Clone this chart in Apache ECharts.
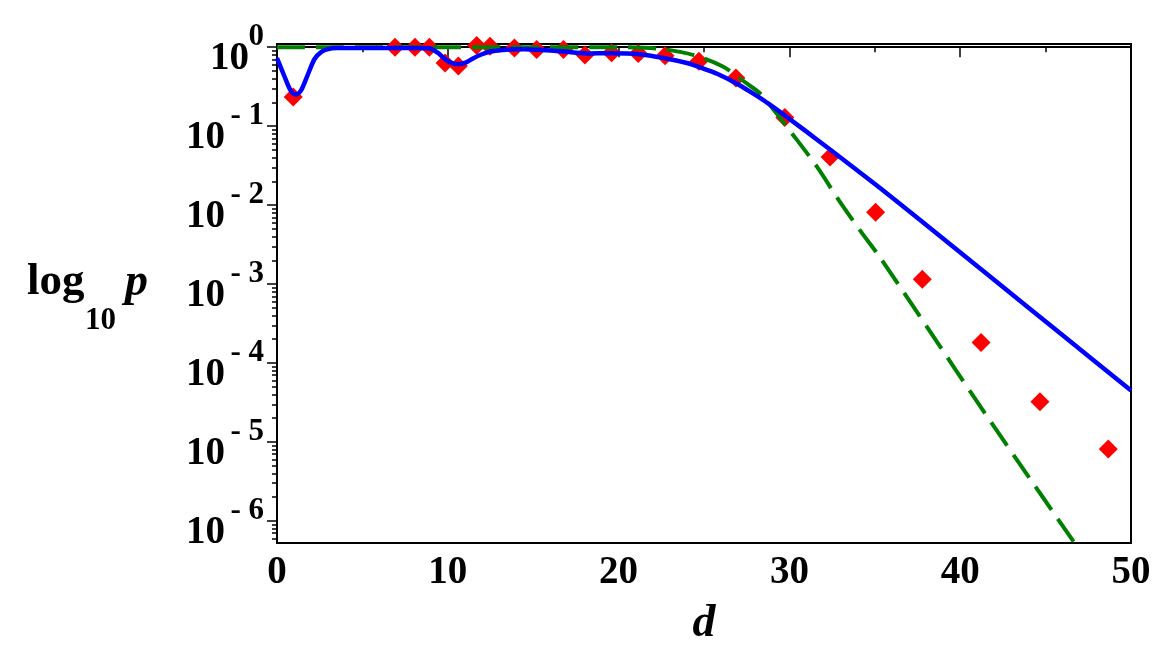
<!DOCTYPE html>
<html>
<head>
<meta charset="utf-8">
<script src="https://cdn.jsdelivr.net/npm/echarts@6/dist/echarts.min.js"></script>
<style>
  html, body { margin: 0; padding: 0; background: #fff; }
  #chart { width: 1157px; height: 665px; }
</style>
</head>
<body>
<div id="chart"></div>
<script>
// values: d on x, log10 p on y
const diamondD = [0.95, 6.91, 8.08, 8.92, 9.84, 10.62, 11.69, 12.47, 13.9, 15.2, 16.77, 18.03, 19.59, 21.15, 22.72, 24.7, 26.87, 29.73, 32.38, 35.05, 37.78, 41.22, 44.67, 48.67]
const diamondLogP = [-0.63, 0.0, 0.0, 0.0, -0.2, -0.24, 0.02, 0.01, -0.01, -0.03, -0.03, -0.1, -0.07, -0.08, -0.11, -0.18, -0.39, -0.89, -1.39, -2.09, -2.94, -3.74, -4.49, -5.09]

const blueD = [0, 0.4, 0.8, 1.1, 1.4, 1.8, 2.2, 2.6, 3.0, 3.5, 4.5, 6, 8, 8.9, 9.4, 9.8, 10.2, 10.6, 11.0, 11.5, 12.0, 12.5, 13.2, 13.9, 14.5, 15.5, 16.8, 18.1, 19.6, 21.2, 22.7, 24.0, 24.7, 25.8, 26.9, 27.6, 28.3, 29.0, 29.7, 31.0, 32.4, 35.1, 37.65, 42, 46, 50]
const blueLogP = [-0.14, -0.35, -0.55, -0.6, -0.55, -0.35, -0.15, -0.06, -0.025, -0.012, -0.01, -0.01, -0.01, -0.015, -0.07, -0.145, -0.2, -0.216, -0.2, -0.14, -0.09, -0.055, -0.035, -0.025, -0.025, -0.035, -0.056, -0.08, -0.076, -0.089, -0.14, -0.2, -0.25, -0.34, -0.46, -0.55, -0.645, -0.75, -0.86, -1.07, -1.3, -1.75, -2.19, -2.95, -3.65, -4.35]

const greenD = [0, 20, 22.4, 24.4, 26.1, 27.5, 28.3, 29.1, 30.0, 31.6, 32.9, 34.2, 35.3, 38.2, 40.8, 43.3, 46.6, 47.5]
const greenLogP = [0, 0, -0.02, -0.1, -0.245, -0.46, -0.59, -0.8, -1.05, -1.51, -1.94, -2.34, -2.66, -3.59, -4.43, -5.22, -6.25, -6.53]

const yDecades = [0, -1, -2, -3, -4, -5, -6]
const yMin = -6.28
const yMax = 0.04

const zip = (a, b) => a.map((v, i) => [v, b[i]])

// log minor ticks (2..9 in every decade)
const yMinor = []
for (let t = 0; t >= -6; t--) {
  for (let k = 2; k <= 9; k++) {
    const v = t - 1 + Math.log10(k)
    if (v > yMin) yMinor.push(v)
  }
}

const serif = 'Liberation Serif'
const black = '#000'

const chart = echarts.init(document.getElementById('chart'))

const hiddenY = {
  type: 'value',
  min: yMin,
  max: yMax,
  position: 'left',
  axisLine: { show: false },
  axisTick: { show: false },
  splitLine: { show: false }
}

// "10" sits just under the tick, exponent just above it (blank line trick)
const baseLabel = (values, margin) => ({
  customValues: values,
  margin: margin,
  fontFamily: serif,
  fontWeight: 'bold',
  fontSize: 39,
  lineHeight: 24,
  color: black,
  formatter: () => ' \n10'
})

const option = {
  animation: false,
  grid: {
    left: 277,
    right: 26,
    top: 44,
    bottom: 122,
    show: true,
    borderColor: black,
    borderWidth: 2
  },
  xAxis: {
    type: 'value',
    min: 0,
    max: 50,
    interval: 10,
    name: 'd',
    nameLocation: 'middle',
    nameGap: 58,
    nameTextStyle: {
      fontFamily: serif,
      fontStyle: 'italic',
      fontWeight: 'bold',
      fontSize: 46,
      color: black
    },
    axisLine: { lineStyle: { color: black, width: 2 } },
    axisTick: { length: 10, lineStyle: { color: black, width: 1.5 } },
    minorTick: { show: true, splitNumber: 2, length: 5, lineStyle: { color: black, width: 1.5 } },
    splitLine: { show: false },
    axisLabel: {
      margin: 10,
      fontFamily: serif,
      fontWeight: 'bold',
      fontSize: 39,
      color: black
    }
  },
  yAxis: [
    {
      type: 'value',
      min: yMin,
      max: yMax,
      axisLine: { show: true, lineStyle: { color: black, width: 2 } },
      axisTick: { show: true, length: 10, customValues: yDecades, lineStyle: { color: black, width: 1.5 } },
      splitLine: { show: false },
      axisLabel: baseLabel([0], 28)
    },
    Object.assign({}, hiddenY, {
      axisLabel: baseLabel(yDecades.slice(1), 52)
    }),
    Object.assign({}, hiddenY, {
      // log minor ticks
      axisTick: { show: true, length: 5, customValues: yMinor, lineStyle: { color: black, width: 1.5 } },
      axisLabel: { show: false }
    }),
    Object.assign({}, hiddenY, {
      // exponents
      axisLabel: {
        customValues: yDecades,
        margin: 13,
        fontFamily: serif,
        fontWeight: 'bold',
        fontSize: 31,
        lineHeight: 20,
        color: black,
        formatter: v => {
          const n = Math.round(v)
          return (n === 0 ? '0' : '- ' + (-n)) + '\n '
        }
      }
    })
  ],
  graphic: [
    {
      type: 'text', left: 27, top: 260,
      style: { text: 'log', fontFamily: serif, fontWeight: 'bold', fontSize: 45, fill: black }
    },
    {
      type: 'text', left: 85, top: 305,
      style: { text: '10', fontFamily: serif, fontWeight: 'bold', fontSize: 31, fill: black }
    },
    {
      type: 'text', left: 125, top: 260,
      style: { text: 'p', fontFamily: serif, fontWeight: 'bold', fontStyle: 'italic', fontSize: 46, fill: black }
    }
  ],
  series: [
    {
      name: 'data',
      type: 'scatter',
      symbol: 'diamond',
      symbolSize: 19,
      itemStyle: { color: '#ff0000', opacity: 1 },
      data: zip(diamondD, diamondLogP),
      z: 2
    },
    {
      name: 'green',
      type: 'line',
      showSymbol: false,
      smooth: 0.3,
      clip: true,
      lineStyle: { color: '#008000', width: 4, type: [28, 11] },
      data: zip(greenD, greenLogP),
      z: 3
    },
    {
      name: 'blue',
      type: 'line',
      showSymbol: false,
      smooth: 0.3,
      clip: true,
      lineStyle: { color: '#0000ff', width: 4.5 },
      data: zip(blueD, blueLogP),
      z: 4
    }
  ]
}

chart.setOption(option)
</script>
</body>
</html>
